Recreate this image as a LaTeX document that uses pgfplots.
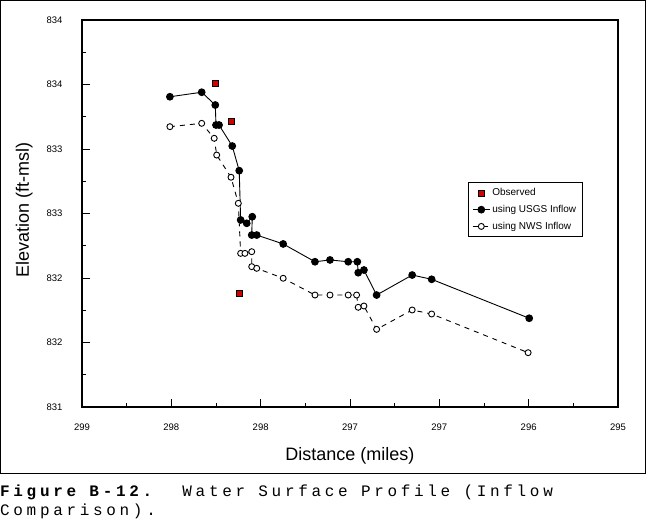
\documentclass[border=0pt]{standalone}
\usepackage{fontspec}
\setmainfont{Liberation Sans}
\newfontfamily\capfont[LetterSpace=23]{Liberation Mono}
\usepackage{pgfplots}
\pgfplotsset{compat=1.18}
\definecolor{obsred}{RGB}{210,0,0}

\begin{document}
\begin{tikzpicture}
\useasboundingbox (0pt,0pt) rectangle (650pt,-529pt);
\draw[line width=1pt] (0.5pt,-0.5pt) rectangle (645.5pt,-473pt);
\begin{axis}[
  at={(82pt,-407pt)}, anchor=south west,
  scale only axis, width=536pt, height=387pt,
  xmin=296, xmax=299, x dir=reverse,
  ymin=831, ymax=834,
  xtick={299,298.5,298,297.5,297,296.5,296},
  xticklabels={299,298,298,297,297,296,295},
  ytick={831,831.5,832,832.5,833,833.5,834},
  yticklabels={831,832,832,833,833,834,834},
  minor x tick num=1, minor y tick num=1,
  tick align=inside, tick pos=left,
  major tick length=8pt, minor tick length=4pt,
  axis line style={line width=1.2pt},
  every tick/.style={black, line width=0.9pt},
  ticklabel style={font=\fontsize{9.5}{9.5}\selectfont},
  xticklabel style={yshift=-13pt},
  yticklabel style={xshift=-16pt},
  xlabel={Distance (miles)}, ylabel={Elevation (ft-msl)},
  label style={font=\fontsize{18}{18}\selectfont},
  xlabel style={at={(axis description cs:0.5,-0.1266)}, anchor=center},
  ylabel style={at={(axis description cs:-0.108,0.509)}, anchor=center},
  legend style={at={(axis description cs:0.720,0.581)}, anchor=north west,
    draw=black, line width=0.8pt, font=\fontsize{10}{10}\selectfont,
    inner xsep=4pt, inner ysep=4pt, row sep=4pt},
  legend cell align=left,
]
\addplot[only marks, mark=square*, mark size=3pt,
  mark options={fill=obsred, draw=black, line width=0.5pt}]
  coordinates {(298.252,833.509) (298.162,833.217) (298.120,831.881)};
\addlegendentry{Observed}
\addplot[black, line width=0.9pt, mark=*, mark size=3.4pt]
  coordinates {(298.508,833.405) (298.330,833.440) (298.254,833.341)
  (298.250,833.186) (298.233,833.186) (298.159,833.023) (298.120,832.832)
  (298.112,832.450) (298.078,832.424) (298.047,832.475) (298.050,832.333)
  (298.022,832.333) (297.874,832.264) (297.696,832.126) (297.612,832.140)
  (297.510,832.126) (297.459,832.126) (297.454,832.041) (297.422,832.062)
  (297.351,831.868) (297.152,832.023) (297.043,831.990) (296.497,831.688)};
\addlegendentry{using USGS Inflow}
\addplot[black, line width=0.9pt, dash pattern=on 5pt off 5pt, mark=*,
  mark size=3pt, mark options={solid, fill=white, line width=0.9pt}]
  coordinates {(298.508,833.173) (298.330,833.199) (298.260,833.083)
  (298.246,832.953) (298.166,832.781) (298.125,832.579) (298.112,832.191)
  (298.088,832.191) (298.050,832.204) (298.050,832.088) (298.022,832.075)
  (297.874,831.998) (297.696,831.868) (297.612,831.868) (297.510,831.868)
  (297.463,831.868) (297.454,831.773) (297.422,831.783) (297.351,831.602)
  (297.152,831.752) (297.043,831.721) (296.503,831.421)};
\addlegendentry{using NWS Inflow}
\end{axis}
\node[anchor=base west, inner sep=0pt] at (0pt,-496pt)
  {\capfont\fontsize{16}{19}\selectfont\textbf{Figure B-12.}\ \ Water Surface Profile (Inflow};
\node[anchor=base west, inner sep=0pt] at (0pt,-515pt)
  {\capfont\fontsize{16}{19}\selectfont Comparison).};
\end{tikzpicture}
\end{document}
